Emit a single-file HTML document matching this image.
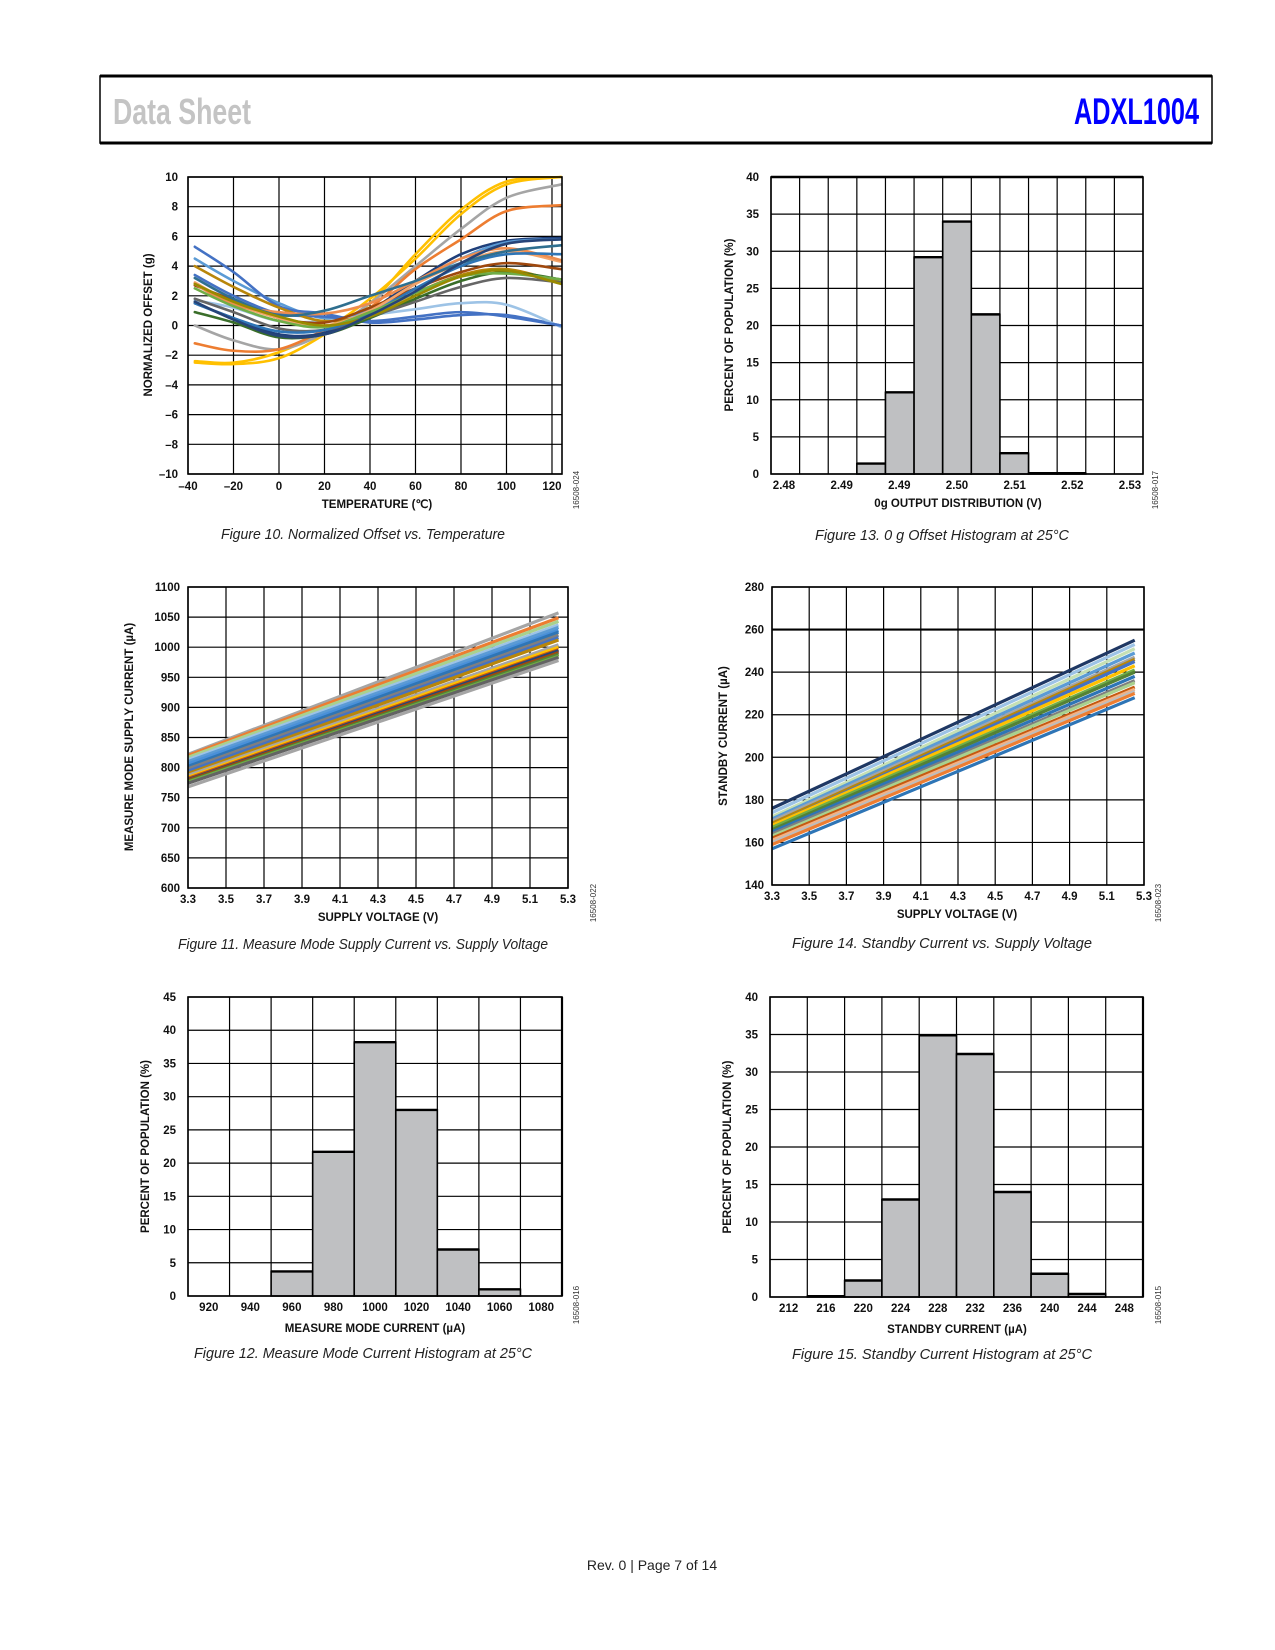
<!DOCTYPE html>
<html><head><meta charset="utf-8"><style>
html,body{margin:0;padding:0;background:#fff;}
svg{display:block;font-family:"Liberation Sans",sans-serif;}
</style></head><body>
<svg id="pg" width="1275" height="1650" viewBox="0 0 1275 1650" xmlns="http://www.w3.org/2000/svg">
<rect x="100" y="76" width="1112" height="67" fill="none" stroke="#000" stroke-width="1.5"/>
<line x1="100" y1="76" x2="1212" y2="76" stroke="#000" stroke-width="3"/>
<line x1="100" y1="143" x2="1212" y2="143" stroke="#000" stroke-width="3"/>
<text x="113" y="124" font-family="'Liberation Sans Narrow','Liberation Sans',sans-serif" font-weight="bold" font-size="36" fill="#c4c4c4" textLength="138" lengthAdjust="spacingAndGlyphs">Data Sheet</text>
<text x="1074" y="124" font-family="'Liberation Sans Narrow','Liberation Sans',sans-serif" font-weight="bold" font-size="37" fill="#0000ff" textLength="125" lengthAdjust="spacingAndGlyphs">ADXL1004</text>
<text x="652" y="1570" text-anchor="middle" font-size="14" fill="#222">Rev. 0 | Page 7 of 14</text>
</svg>
<script>
// ===== Figure 10 data =====
const f10Temps=[-37,-20,0,20,40,60,80,100,124];
const f10Colors=["#ffc000","#ffc000","#a5a5a5","#ed7d31","#1f3f7a","#5b9bd5","#4472c4","#9dc3e6","#4472c4","#b8860b","#3a6e2a","#666666","#9e480e","#f4a46a","#ed8d4f","#2e75b6","#70ad47","#2f6f8f","#998a00","#264478"];
const f10S0=[-2.4,-2.5,-1.8,-0.3,1.8,4.5,7.5,9.5,10];
const f10S1=[-2.5,-2.6,-2.2,-0.6,1.5,4.8,7.8,9.7,10];
const f10S2=[0,-1.0,-1.6,-0.5,1.5,4,6.5,8.6,9.5];
const f10S3=[-1.2,-1.7,-1.6,-0.3,1.2,3.8,5.8,7.7,8.1];
const f10S4=[1.5,0.5,-0.6,-0.5,1.0,3.0,4.8,5.7,5.9];
const f10S5=[4.5,3.0,1.5,0.5,1.0,2.8,4.5,5.6,5.8];
const f10S6=[5.3,3.6,1.3,0.8,0.2,0.4,0.7,0.7,0];
const f10S7=[1.7,1.2,0.3,0.3,0.7,1.1,1.5,1.4,-0.1];
const f10S8=[3.4,2.0,0.8,0.6,0.3,0.6,0.9,0.6,0];
const f10S9=[4.0,2.6,1.2,0.3,0.8,2.2,3.4,3.8,2.9];
const f10S10=[0.9,0.2,-0.8,-0.6,0.5,1.8,3.0,3.6,3.1];
const f10S11=[1.8,0.9,-0.2,-0.3,0.6,1.6,2.6,3.2,2.9];
const f10S12=[2.7,1.7,0.5,0.2,1.2,2.5,3.6,4.2,3.8];
const f10S13=[2.9,1.5,0.5,0.0,1.0,2.8,4.2,5.0,4.3];
const f10S14=[2.8,1.4,0.9,0.8,1.5,3.0,4.5,5.2,4.4];
const f10S15=[1.5,0.5,-0.4,-0.3,0.8,2.5,4.0,4.8,4.8];
const f10S16=[2.5,1.3,0.3,-0.1,0.9,2.2,3.3,3.5,3.1];
const f10S17=[3.2,1.8,0.7,1.0,2.0,3.0,4.2,5.0,5.4];
const f10S18=[2.8,1.6,0.6,0.0,0.6,2.0,3.3,3.7,2.8];
const f10S19=[1.6,0.4,-0.7,-0.6,0.7,2.3,4.2,5.5,5.8];
const f10Series=[f10S0,f10S1,f10S2,f10S3,f10S4,f10S5,f10S6,f10S7,f10S8,f10S9,f10S10,f10S11,f10S12,f10S13,f10S14,f10S15,f10S16,f10S17,f10S18,f10S19];
const f10XTicks=[-40,-20,0,20,40,60,80,100,120];
const f10XLabels=["–40","–20","0","20","40","60","80","100","120"];
const f10YTicks=[10,8,6,4,2,0,-2,-4,-6,-8,-10];
const f10YLabels=["10","8","6","4","2","0","–2","–4","–6","–8","–10"];
// ===== Figure 13 data =====
const f13Values=[0,0,0,1.4,11,29.2,34,21.5,2.8,0.1,0.1,0,0];
const f13XLabels=["2.48","2.49","2.49","2.50","2.51","2.52","2.53"];
const f13YTicks=[0,5,10,15,20,25,30,35,40];
// ===== Figure 11 data =====
const f11Colors=["#a5a5a5","#ed7d31","#a9d18e","#9dc3e6","#5b9bd5","#4a90d9","#2e75b6","#7f7f7f","#4472c4","#b8860b","#a5a5a5","#ffc000","#c55a11","#264478","#9e480e","#548235","#70ad47","#636363","#a5a5a5"];
const f11Start=[822,820,817,813,810,806,802,798,794,790,787,784,782,780,779,777,776,774,768];
const f11End=[1057,1049,1043,1037,1033,1028,1025,1020,1016,1012,1004,1000,996,994,991,988,985,983,978];
const f11XTicks=[3.3,3.5,3.7,3.9,4.1,4.3,4.5,4.7,4.9,5.1,5.3];
const f11YTicks=[600,650,700,750,800,850,900,950,1000,1050,1100];
// ===== Figure 14 data =====
const f14Colors=["#1f3864","#9dc3e6","#c5e0b4","#5b9bd5","#a5a5a5","#b8860b","#4472c4","#ffc000","#70ad47","#548235","#2e75b6","#7f7f7f","#a9d18e","#c55a11","#f4b183","#bdbdbd","#ed7d31","#2e75b6"];
const f14Start=[176,174,172,171,170,169,168,168,167,166,165,164,163,162,161,160,159,157];
const f14End=[255,253,251,249,247,246,245,243,241,240,238,236,235,233,232,231,230,228];
const f14XTicks=[3.3,3.5,3.7,3.9,4.1,4.3,4.5,4.7,4.9,5.1,5.3];
const f14YTicks=[140,160,180,200,220,240,260,280];
// ===== Figure 12 data =====
const f12Cats=["920","940","960","980","1000","1020","1040","1060","1080"];
const f12Values=[0,0,3.7,21.7,38.2,28,7,1,0];
const f12YTicks=[0,5,10,15,20,25,30,35,40,45];
// ===== Figure 15 data =====
const f15Cats=["212","216","220","224","228","232","236","240","244","248"];
const f15Values=[0,0.1,2.2,13,34.9,32.4,14,3.1,0.4,0];
const f15YTicks=[0,5,10,15,20,25,30,35,40];

const NS="http://www.w3.org/2000/svg";
const pg=document.getElementById('pg');
function mk(tag,attrs,parent){const e=document.createElementNS(NS,tag);for(const k in attrs)e.setAttribute(k,attrs[k]);(parent||pg).appendChild(e);return e;}
function txt(x,y,s,size,anchor,parent,extra){const t=mk('text',Object.assign({x:x,y:y,'font-size':size,'text-anchor':anchor||'middle','font-weight':'bold',fill:'#111'},extra||{}),parent);t.textContent=s;return t;}
function lin(d0,d1,r0,r1){return v=>r0+(v-d0)*(r1-r0)/(d1-d0);}
function smoothPath(pts){let d='M'+pts[0][0]+','+pts[0][1];for(let i=0;i<pts.length-1;i++){const p0=pts[Math.max(0,i-1)],p1=pts[i],p2=pts[i+1],p3=pts[Math.min(pts.length-1,i+2)];const c1x=p1[0]+(p2[0]-p0[0])/6,c1y=p1[1]+(p2[1]-p0[1])/6,c2x=p2[0]-(p3[0]-p1[0])/6,c2y=p2[1]-(p3[1]-p1[1])/6;d+=' C'+c1x+','+c1y+' '+c2x+','+c2y+' '+p2[0]+','+p2[1];}return d;}
function frame(g,L,R,T,B){mk('rect',{x:L,y:T,width:R-L,height:B-T,fill:'none',stroke:'#000','stroke-width':1.6},g);}
function hgrid(g,L,R,ys){ys.forEach(y=>mk('line',{x1:L,x2:R,y1:y,y2:y,stroke:'#000','stroke-width':1.2},g));}
function vgrid(g,T,B,xs){xs.forEach(x=>mk('line',{x1:x,x2:x,y1:T,y2:B,stroke:'#000','stroke-width':1.2},g));}
function ytitle(g,x,y,s){txt(x,y,s,11.5,'middle',g,{transform:'rotate(-90 '+x+' '+y+')'});}
function caption(x,y,s,w,name){const t=txt(x,y,s,15,'middle',pg,{'font-weight':'normal','font-style':'italic',fill:'#222',textLength:w,lengthAdjust:'spacingAndGlyphs'});}
function figid(x,y,s){txt(x,y,s,8,'middle',pg,{'font-weight':'normal',fill:'#333',transform:'rotate(-90 '+x+' '+y+')'});}

// ---- Figure 10 ----
(function(){
const g=mk('g',{});


const L=188,R=562,T=177,B=474;
const xs=lin(-40,124.4,L,R),ys=lin(-10,10,B,T);
hgrid(g,L,R,f10YTicks.map(ys));vgrid(g,T,B,f10XTicks.map(xs));
f10Series.forEach((s,i)=>{const p=mk('path',{d:smoothPath(s.map((v,j)=>[xs(f10Temps[j]),ys(v)])),fill:'none',stroke:f10Colors[i],'stroke-width':2.6,'stroke-linecap':'round'},g);

});
frame(g,L,R,T,B);
f10YTicks.forEach((v,i)=>txt(L-10,ys(v)+4,f10YLabels[i],11.5,'end',g));
f10XTicks.forEach((v,i)=>txt(xs(v),B+16,f10XLabels[i],11.5,'middle',g));
txt(377,508,'TEMPERATURE (℃)',11.5,'middle',g);
ytitle(g,152,325,'NORMALIZED OFFSET (g)');
})();
caption(363,539,'Figure 10. Normalized Offset vs. Temperature',284,'figure-10-caption');
figid(579,490,'16508-024');

// ---- Figure 13 ----
(function(){
const g=mk('g',{});


const L=771,R=1143,T=177,B=474,n=f13Values.length,w=(R-L)/n;
const ys=lin(0,40,B,T);
hgrid(g,L,R,f13YTicks.map(ys));const vx=[];for(let i=0;i<=n;i++)vx.push(L+i*w);vgrid(g,T,B,vx);
f13Values.forEach((v,i)=>{if(v<=0)return;const r=mk('rect',{x:L+i*w,y:ys(v),width:w,height:B-ys(v),fill:'#bfc0c2',stroke:'#000','stroke-width':1.6},g);


mk('line',{x1:L+i*w,x2:L+(i+1)*w,y1:ys(v),y2:ys(v),stroke:'#000','stroke-width':2.4},g);});
frame(g,L,R,T,B);mk('line',{x1:L,x2:R,y1:T,y2:T,stroke:'#000','stroke-width':2.6},g);
f13YTicks.forEach(v=>txt(L-12,ys(v)+4,String(v),11.5,'end',g));
f13XLabels.forEach((s,i)=>txt(784+i*(1130-784)/6,B+15,s,11.5,'middle',g));
txt(958,507,'0g OUTPUT DISTRIBUTION (V)',11.5,'middle',g);
ytitle(g,733,325,'PERCENT OF POPULATION (%)');
})();
caption(942,540,'Figure 13. 0 g Offset Histogram at 25°C',254,'figure-13-caption');
figid(1158,490,'16508-017');

// ---- line chart helper ----
function lineChart(name,L,R,T,B,x0,x1,y0,y1,xt,yt,starts,ends,colors,xEnd,xtitle,xtX,ytX,boldY){
const g=mk('g',{});


const xs=lin(x0,x1,L,R),ys=lin(y0,y1,B,T);
hgrid(g,L,R,yt.map(ys));vgrid(g,T,B,xt.map(xs));
if(boldY!==undefined)mk('line',{x1:L,x2:R,y1:ys(boldY),y2:ys(boldY),stroke:'#000','stroke-width':2.2},g);
starts.forEach((s,i)=>{const p=mk('line',{x1:xs(x0),y1:ys(s),x2:xs(xEnd),y2:ys(ends[i]),stroke:colors[i%colors.length],'stroke-width':3.2},g);

});
frame(g,L,R,T,B);
yt.forEach(v=>txt(L-8,ys(v)+4,String(v),11.5,'end',g));
xt.forEach(v=>txt(xs(v),B+15,v.toFixed(1),11.5,'middle',g));
txt(xtX,B+33,xtitle,11.5,'middle',g);
return g;}
const g11=lineChart('measure-current-vs-voltage-chart',188,568,587,888,3.3,5.3,600,1100,f11XTicks,f11YTicks,f11Start,f11End,f11Colors,5.25,'SUPPLY VOLTAGE (V)',378);
ytitle(g11,133,737,'MEASURE MODE SUPPLY CURRENT (µA)');
caption(363,949,'Figure 11. Measure Mode Supply Current vs. Supply Voltage',370,'figure-11-caption');
figid(596,903,'16508-022');
const g14=lineChart('standby-current-vs-voltage-chart',772,1144,587,885,3.3,5.3,140,280,f14XTicks,f14YTicks,f14Start,f14End,f14Colors,5.25,'SUPPLY VOLTAGE (V)',957,0,260);
ytitle(g14,727,736,'STANDBY CURRENT (µA)');
caption(942,948,'Figure 14. Standby Current vs. Supply Voltage',300,'figure-14-caption');
figid(1161,903,'16508-023');

// ---- histogram helper ----
function hist(name,L,R,T,B,ymax,vals,cats,yt,xtitle,xtX,ytX){
const g=mk('g',{});


const n=vals.length,w=(R-L)/n,ys=lin(0,ymax,B,T);
hgrid(g,L,R,yt.map(ys));const vx=[];for(let i=0;i<=n;i++)vx.push(L+i*w);vgrid(g,T,B,vx);
vals.forEach((v,i)=>{if(v<=0)return;const r=mk('rect',{x:L+i*w,y:ys(v),width:w,height:B-ys(v),fill:'#bfc0c2',stroke:'#000','stroke-width':1.6},g);


mk('line',{x1:L+i*w,x2:L+(i+1)*w,y1:ys(v),y2:ys(v),stroke:'#000','stroke-width':2.4},g);});
frame(g,L,R,T,B);mk('line',{x1:R,x2:R,y1:T,y2:B,stroke:'#000','stroke-width':2.2},g);
yt.forEach(v=>txt(L-12,ys(v)+4,String(v),11.5,'end',g));
cats.forEach((c,i)=>txt(L+(i+0.5)*w,B+15,c,11.5,'middle',g));
txt(xtX,B+36,xtitle,11.5,'middle',g);
ytitle(g,ytX,(T+B)/2,'PERCENT OF POPULATION (%)');}
hist('measure-current-histogram',188,562,997,1296,45,f12Values,f12Cats,f12YTicks,'MEASURE MODE CURRENT (µA)',375,149);
caption(363,1358,'Figure 12. Measure Mode Current Histogram at 25°C',338,'figure-12-caption');
figid(579,1305,'16508-016');
hist('standby-current-histogram',770,1143,997,1297,40,f15Values,f15Cats,f15YTicks,'STANDBY CURRENT (µA)',957,731);
caption(942,1359,'Figure 15. Standby Current Histogram at 25°C',300,'figure-15-caption');
figid(1161,1305,'16508-015');
</script>
</body></html>
